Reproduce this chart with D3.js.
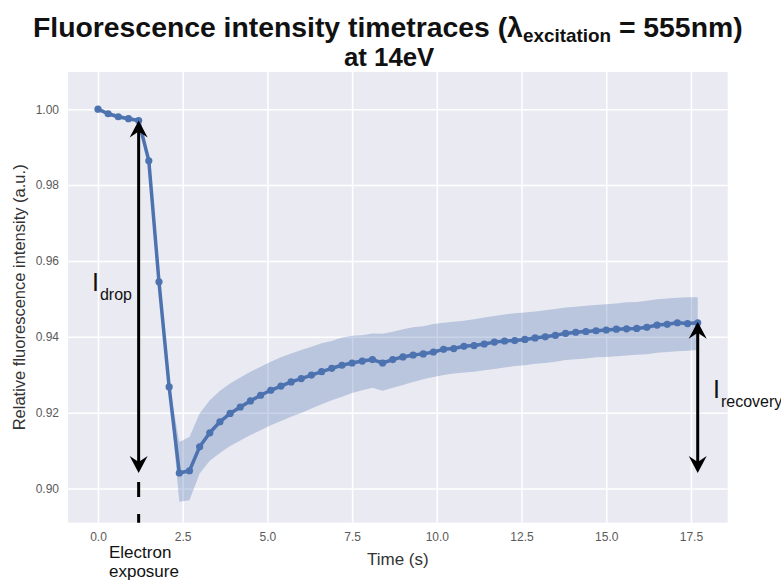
<!DOCTYPE html>
<html>
<head>
<meta charset="utf-8">
<script src="https://cdn.jsdelivr.net/npm/d3@7"></script>
<style>
  body { margin: 0; background: #fff; }
  svg { display: block; font-family: "Liberation Sans", Arial, sans-serif; }
</style>
</head>
<body>
<svg id="chart" width="781" height="580"></svg>
<script>
// Time points (s)
const times = [0.0, 0.3, 0.6, 0.9, 1.2, 1.5, 1.8, 2.1, 2.4, 2.7,
    3.0, 3.3, 3.6, 3.9, 4.2, 4.5, 4.8, 5.1, 5.4, 5.7,
    6.0, 6.3, 6.6, 6.9, 7.2, 7.5, 7.8, 8.1, 8.4, 8.7,
    9.0, 9.3, 9.6, 9.9, 10.2, 10.5, 10.8, 11.1, 11.4, 11.7,
    12.0, 12.3, 12.6, 12.9, 13.2, 13.5, 13.8, 14.1, 14.4, 14.7,
    15.0, 15.3, 15.6, 15.9, 16.2, 16.5, 16.8, 17.1, 17.4, 17.7];

// Mean relative intensity
const meanVals = [1.0000, 0.9988, 0.9980, 0.9975, 0.9970, 0.9864, 0.9545, 0.9268, 0.9041, 0.9047,
    0.9110, 0.9147, 0.9176, 0.9198, 0.9215, 0.9231, 0.9246, 0.9259, 0.9270, 0.9281,
    0.9290, 0.9299, 0.9308, 0.9317, 0.9325, 0.9331, 0.9336, 0.9340, 0.9331, 0.9340,
    0.9347, 0.9352, 0.9355, 0.9360, 0.9367, 0.9369, 0.9375, 0.9377, 0.9381, 0.9386,
    0.9389, 0.9390, 0.9393, 0.9397, 0.9400, 0.9404, 0.9409, 0.9412, 0.9414, 0.9416,
    0.9418, 0.9420, 0.9421, 0.9422, 0.9425, 0.9431, 0.9433, 0.9437, 0.9435, 0.9437];

// Shaded band edges
const upperVals = [1.0005, 0.9993, 0.9985, 0.9980, 0.9975, 0.9870, 0.9552, 0.9276, 0.9123, 0.9136,
    0.9198, 0.9233, 0.9258, 0.9277, 0.9293, 0.9308, 0.9321, 0.9334, 0.9346, 0.9356,
    0.9365, 0.9374, 0.9383, 0.9389, 0.9398, 0.9403, 0.9404, 0.9409, 0.9408, 0.9413,
    0.9420, 0.9425, 0.9428, 0.9434, 0.9437, 0.9440, 0.9442, 0.9446, 0.9451, 0.9455,
    0.9459, 0.9462, 0.9464, 0.9467, 0.9470, 0.9473, 0.9477, 0.9479, 0.9482, 0.9484,
    0.9486, 0.9488, 0.9491, 0.9492, 0.9495, 0.9499, 0.9501, 0.9503, 0.9504, 0.9504];

const lowerVals = [0.9995, 0.9983, 0.9975, 0.9970, 0.9965, 0.9858, 0.9538, 0.9260, 0.8965, 0.8969,
    0.9040, 0.9073, 0.9094, 0.9112, 0.9127, 0.9141, 0.9154, 0.9167, 0.9178, 0.9189,
    0.9199, 0.9211, 0.9222, 0.9233, 0.9242, 0.9252, 0.9259, 0.9266, 0.9258, 0.9266,
    0.9273, 0.9281, 0.9288, 0.9294, 0.9299, 0.9303, 0.9306, 0.9308, 0.9312, 0.9315,
    0.9319, 0.9323, 0.9325, 0.9329, 0.9331, 0.9334, 0.9339, 0.9341, 0.9343, 0.9346,
    0.9347, 0.9349, 0.9351, 0.9353, 0.9354, 0.9358, 0.9360, 0.9362, 0.9363, 0.9365];

// Ticks
const xTicks = [0, 2.5, 5, 7.5, 10, 12.5, 15, 17.5];
const yTicks = [0.90, 0.92, 0.94, 0.96, 0.98, 1.00];

// Annotation arrows: x position, top end, bottom end
const arrowX = [1.2, 17.7];
const arrowTop = [0.9970, 0.9440];
const arrowBottom = [0.9041, 0.9041];

const svg = d3.select('#chart');
const plotL = 68, plotR = 727.7, plotT = 72, plotB = 522.7;
const blue = '#4C72B0';

const x = d3.scaleLinear().domain([-0.885, 18.585]).range([plotL, plotR]);
const y = d3.scaleLinear().domain([0.891, 1.0098]).range([plotB, plotT]);

// plot background
svg.append('rect')
    .attr('x', plotL).attr('y', plotT)
    .attr('width', plotR - plotL).attr('height', plotB - plotT)
    .attr('fill', '#EAEAF2');

// x grid + labels
const xAxis = svg.append('g')
    .attr('transform', `translate(0,${plotB})`)
    .call(d3.axisBottom(x).tickValues(xTicks).tickFormat(d3.format('.1f'))
        .tickSize(-(plotB - plotT)).tickPadding(10));
// y grid + labels
const yAxis = svg.append('g')
    .attr('transform', `translate(${plotL},0)`)
    .call(d3.axisLeft(y).tickValues(yTicks).tickFormat(d3.format('.2f'))
        .tickSize(-(plotR - plotL)).tickPadding(9));

[xAxis, yAxis].forEach(g => {
    g.select('.domain').remove();
    g.selectAll('.tick line').attr('stroke', '#fff').attr('stroke-width', 1.5);
    g.selectAll('.tick text')
        .attr('fill', '#5a5a5a')
        .style('font-size', '12px')
        .style('font-family', '"Liberation Sans", Arial, sans-serif');
});

const rows = times.map((t, i) => ({ t, m: meanVals[i], lo: lowerVals[i], hi: upperVals[i] }));

// band
svg.append('path')
    .datum(rows)
    .attr('fill', blue)
    .attr('fill-opacity', 0.3)
    .attr('d', d3.area().x(d => x(d.t)).y0(d => y(d.lo)).y1(d => y(d.hi)));

// line
svg.append('path')
    .datum(rows)
    .attr('fill', 'none')
    .attr('stroke', blue)
    .attr('stroke-width', 3.5)
    .attr('stroke-linejoin', 'round')
    .attr('d', d3.line().x(d => x(d.t)).y(d => y(d.m)));

svg.append('g').selectAll('circle')
    .data(rows)
    .enter().append('circle')
    .attr('cx', d => x(d.t))
    .attr('cy', d => y(d.m))
    .attr('r', 3.6)
    .attr('fill', blue);

// arrows
function arrowHead(px, py, dir) {
    // dir = -1 points up, 1 points down
    const L = 17, W = 9, N = 11;
    return `M${px},${py} L${px - W},${py - dir * L} L${px},${py - dir * N} L${px + W},${py - dir * L} Z`;
}
arrowX.forEach((ax, i) => {
    const px = x(ax), y1 = y(arrowTop[i]), y2 = y(arrowBottom[i]);
    svg.append('line')
        .attr('x1', px).attr('x2', px)
        .attr('y1', y1 + 10).attr('y2', y2 - 10)
        .attr('stroke', '#000').attr('stroke-width', 3);
    svg.append('path').attr('d', arrowHead(px, y1, -1)).attr('fill', '#000');
    svg.append('path').attr('d', arrowHead(px, y2, 1)).attr('fill', '#000');
});

// dashed marker for electron exposure
svg.append('line')
    .attr('x1', x(arrowX[0])).attr('x2', x(arrowX[0]))
    .attr('y1', y(arrowBottom[0]) + 9).attr('y2', plotB)
    .attr('stroke', '#000').attr('stroke-width', 3)
    .attr('stroke-dasharray', '15,17');

// I labels
function subLabel(px, py, main, sub) {
    const t = svg.append('text').attr('x', px).attr('y', py).attr('fill', '#111');
    t.append('tspan').style('font-size', '25px').text(main);
    t.append('tspan').attr('dx', 1).attr('dy', 9).style('font-size', '16px').text(sub);
}
subLabel(92, 291, 'I', 'drop');
subLabel(713, 398, 'I', 'recovery');

// Electron exposure
svg.append('text').attr('x', 109).attr('y', 558).style('font-size', '17px').attr('fill', '#111').text('Electron');
svg.append('text').attr('x', 109).attr('y', 577).style('font-size', '17px').attr('fill', '#111').text('exposure');

// axis titles
svg.append('text')
    .attr('x', (plotL + plotR) / 2).attr('y', 565)
    .attr('text-anchor', 'middle')
    .style('font-size', '17px').attr('fill', '#333')
    .text('Time (s)');
svg.append('text')
    .attr('transform', `translate(25,${(plotT + plotB) / 2}) rotate(-90)`)
    .attr('text-anchor', 'middle')
    .style('font-size', '16.5px').attr('fill', '#333')
    .text('Relative fluorescence intensity (a.u.)');

// title
const t1 = svg.append('text').attr('y', 37).style('font-size', '27px').style('font-weight', 'bold').attr('fill', '#111');
t1.append('tspan').text('Fluorescence intensity timetraces (λ');
t1.append('tspan').attr('dy', 5).style('font-size', '18px').text('excitation');
t1.append('tspan').attr('dy', -5).text(' = 555nm)');
const t2 = svg.append('text').attr('y', 66).style('font-size', '26px').style('font-weight', 'bold').attr('fill', '#111').text('at 14eV');

function fitText(sel, x0, x1) {
    const bb = sel.node().getBBox();
    const s = (x1 - x0) / bb.width;
    sel.attr('transform', `translate(${x0 - bb.x * s},0) scale(${s},1)`);
}
fitText(t1, 33, 743);
fitText(t2, 344, 435);
</script>
</body>
</html>
